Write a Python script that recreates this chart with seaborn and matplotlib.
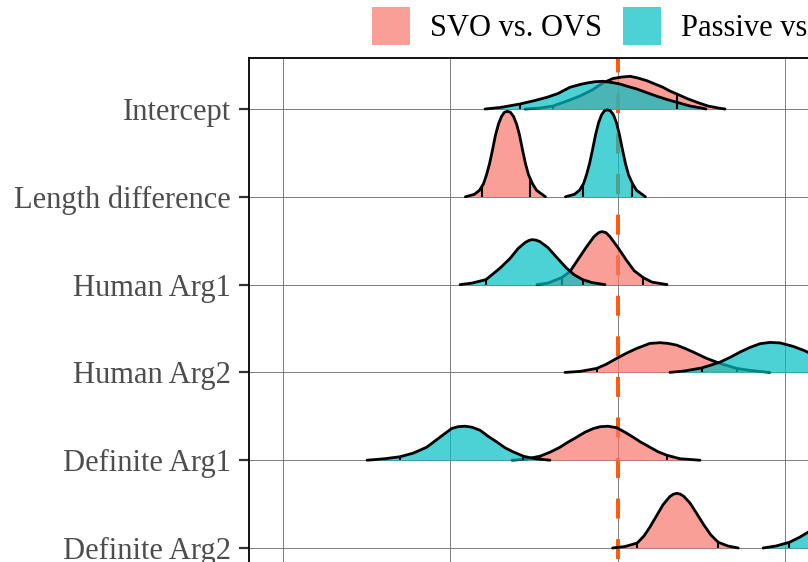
import numpy as np
import matplotlib
matplotlib.use('Agg')
import matplotlib.pyplot as plt
import seaborn as sns
from matplotlib.patches import Patch


terms = ['Intercept', 'Length difference', 'Human Arg1', 'Human Arg2', 'Definite Arg1', 'Definite Arg2']
contrasts = ['SVO vs. OVS', 'Passive vs. Active']

# posterior densities: x = estimate, h = density (arbitrary scale), q = 2.5% / 97.5% quantiles
int_svo_x = [-0.555, -0.466, -0.388, -0.304, -0.227, -0.155, -0.090, -0.030, 0.024, 0.072, 0.119, 0.173, 0.221, 0.269, 0.310, 0.352, 0.412, 0.472, 0.537, 0.609, 0.639]
int_svo_h = [0, 0.01, 0.03, 0.08, 0.13, 0.19, 0.26, 0.305, 0.32, 0.327, 0.31, 0.283, 0.25, 0.217, 0.18, 0.15, 0.105, 0.067, 0.03, 0.007, 0]
int_svo_q = [-0.388, 0.352]
int_pas_x = [-0.794, -0.704, -0.585, -0.496, -0.424, -0.358, -0.287, -0.227, -0.185, -0.137, -0.090, -0.036, 0.012, 0.060, 0.113, 0.173, 0.233, 0.293, 0.352, 0.430, 0.507, 0.525]
int_pas_h = [0, 0.015, 0.05, 0.085, 0.117, 0.155, 0.217, 0.245, 0.26, 0.273, 0.277, 0.265, 0.25, 0.225, 0.20, 0.163, 0.127, 0.095, 0.067, 0.03, 0.007, 0]
int_pas_q = [-0.585, 0.352]

len_svo_x = [-0.911, -0.857, -0.827, -0.803, -0.785, -0.767, -0.749, -0.731, -0.713, -0.695, -0.678, -0.660, -0.642, -0.624, -0.606, -0.588, -0.570, -0.552, -0.534, -0.510, -0.486, -0.433]
len_svo_h = [0, 0.025, 0.065, 0.13, 0.22, 0.33, 0.47, 0.62, 0.73, 0.805, 0.845, 0.855, 0.845, 0.805, 0.73, 0.62, 0.47, 0.33, 0.22, 0.13, 0.065, 0]
len_svo_q = [-0.810, -0.525]
len_pas_x = [-0.314, -0.260, -0.230, -0.206, -0.188, -0.170, -0.152, -0.134, -0.116, -0.098, -0.081, -0.063, -0.045, -0.027, -0.009, 0.009, 0.027, 0.045, 0.063, 0.087, 0.111, 0.164]
len_pas_h = [0, 0.025, 0.065, 0.13, 0.22, 0.33, 0.47, 0.62, 0.74, 0.82, 0.86, 0.87, 0.86, 0.82, 0.74, 0.62, 0.47, 0.33, 0.22, 0.13, 0.065, 0]
len_pas_q = [-0.207, 0.082]

hum1_svo_x = [-0.484, -0.418, -0.336, -0.287, -0.239, -0.191, -0.143, -0.115, -0.096, -0.072, -0.048, 0.0, 0.048, 0.096, 0.151, 0.203, 0.293]
hum1_svo_h = [0, 0.015, 0.07, 0.13, 0.25, 0.37, 0.48, 0.52, 0.53, 0.52, 0.48, 0.37, 0.25, 0.14, 0.07, 0.025, 0]
hum1_svo_q = [-0.336, 0.151]
hum1_pas_x = [-0.943, -0.872, -0.788, -0.704, -0.645, -0.597, -0.555, -0.534, -0.513, -0.490, -0.466, -0.418, -0.370, -0.310, -0.263, -0.211, -0.155, -0.078]
hum1_pas_h = [0, 0.015, 0.05, 0.165, 0.26, 0.36, 0.42, 0.44, 0.45, 0.445, 0.43, 0.37, 0.28, 0.17, 0.10, 0.05, 0.02, 0]
hum1_pas_q = [-0.788, -0.211]

hum2_svo_x = [-0.316, -0.227, -0.127, -0.072, -0.008, 0.048, 0.112, 0.191, 0.251, 0.299, 0.350, 0.400, 0.450, 0.530, 0.609, 0.709, 0.788, 0.907]
hum2_svo_h = [0, 0.01, 0.04, 0.08, 0.14, 0.19, 0.24, 0.29, 0.297, 0.29, 0.273, 0.24, 0.203, 0.14, 0.09, 0.04, 0.02, 0]
hum2_svo_q = [-0.127, 0.709]
hum2_pas_x = [0.310, 0.400, 0.500, 0.549, 0.609, 0.669, 0.728, 0.788, 0.848, 0.907, 0.967, 1.047, 1.110, 1.176, 1.266, 1.355, 1.445, 1.564]
hum2_pas_h = [0, 0.015, 0.045, 0.07, 0.103, 0.15, 0.203, 0.25, 0.287, 0.30, 0.295, 0.26, 0.22, 0.17, 0.10, 0.05, 0.02, 0]
hum2_pas_q = [0.500, 1.355]

def1_svo_x = [-0.633, -0.555, -0.466, -0.406, -0.346, -0.299, -0.247, -0.197, -0.147, -0.107, -0.060, -0.008, 0.042, 0.091, 0.137, 0.191, 0.239, 0.291, 0.370, 0.490]
def1_svo_h = [0, 0.01, 0.04, 0.08, 0.13, 0.18, 0.23, 0.28, 0.317, 0.335, 0.34, 0.325, 0.28, 0.23, 0.18, 0.13, 0.085, 0.05, 0.015, 0]
def1_svo_q = [-0.466, 0.291]
def1_pas_x = [-1.498, -1.391, -1.301, -1.224, -1.142, -1.063, -0.993, -0.955, -0.913, -0.872, -0.824, -0.776, -0.724, -0.675, -0.625, -0.565, -0.496, -0.406]
def1_pas_h = [0, 0.015, 0.035, 0.07, 0.13, 0.23, 0.317, 0.335, 0.34, 0.33, 0.30, 0.24, 0.183, 0.125, 0.083, 0.04, 0.015, 0]
def1_pas_q = [-1.301, -0.565]

def2_svo_x = [-0.032, 0.042, 0.115, 0.155, 0.191, 0.233, 0.270, 0.310, 0.331, 0.352, 0.373, 0.394, 0.430, 0.472, 0.513, 0.555, 0.599, 0.657, 0.718]
def2_svo_h = [0, 0.015, 0.05, 0.12, 0.21, 0.33, 0.435, 0.515, 0.538, 0.547, 0.538, 0.515, 0.45, 0.34, 0.23, 0.13, 0.057, 0.02, 0]
def2_svo_q = [0.115, 0.599]
def2_pas_x = [0.867, 0.943, 1.023, 1.087, 1.134, 1.206, 1.295, 1.385, 1.504, 1.624, 1.743, 1.862]
def2_pas_h = [0, 0.02, 0.057, 0.11, 0.157, 0.23, 0.30, 0.33, 0.28, 0.15, 0.05, 0]
def2_pas_q = [1.023, 1.624]


sns.set_theme(style='white')
plt.rcParams['font.family'] = ['Liberation Serif', 'DejaVu Serif']
plt.rcParams['lines.scale_dashes'] = False

colors = ['#F8766D', '#00BFC4']
scale = 1.139      # ridge height relative to row spacing

rows = [
    [(int_svo_x, int_svo_h, int_svo_q), (int_pas_x, int_pas_h, int_pas_q)],
    [(len_svo_x, len_svo_h, len_svo_q), (len_pas_x, len_pas_h, len_pas_q)],
    [(hum1_svo_x, hum1_svo_h, hum1_svo_q), (hum1_pas_x, hum1_pas_h, hum1_pas_q)],
    [(hum2_svo_x, hum2_svo_h, hum2_svo_q), (hum2_pas_x, hum2_pas_h, hum2_pas_q)],
    [(def1_svo_x, def1_svo_h, def1_svo_q), (def1_pas_x, def1_pas_h, def1_pas_q)],
    [(def2_svo_x, def2_svo_h, def2_svo_q), (def2_pas_x, def2_pas_h, def2_pas_q)],
]

fig = plt.figure(figsize=(8.08, 5.62), dpi=100)
# the panel runs past the right and bottom edge of the picture
ax = fig.add_axes([249 / 808, 1 - 700 / 562, 851 / 808, 642 / 562])
ytop, ybot = 0.581, -6.731

# null line under the ridges
ax.plot([0, 0], [ytop, ybot], color='#FF5A0F', lw=2.9,
        linestyle=(4, (14.4, 14.8)), zorder=1, solid_capstyle='butt')

z = 2
for i, row in enumerate(rows):
    base = -i
    for k, (x, h, q) in enumerate(row):
        x = np.array(x)
        top = base + np.array(h) * scale
        ax.fill_between(x, base, top, color=colors[k], alpha=0.7, lw=0, zorder=z)
        for qq in q:
            hq = np.interp(qq, x, top)
            ax.plot([qq, qq], [base, hq], color='black', lw=1.5, zorder=z + 0.01,
                    solid_capstyle='butt')
        sns.lineplot(x=x, y=top, ax=ax, color='black', lw=2.0, sort=False,
                     estimator=None, zorder=z + 0.02, legend=False,
                     solid_joinstyle='round')
        z += 0.1

ax.set_xlim(-2.203, 2.878)
ax.set_ylim(ybot, ytop)
ax.set_xticks([-2, -1, 0, 1, 2])
ax.set_xticklabels([])
ax.set_yticks([-i for i in range(len(terms))])
ax.set_yticklabels(terms)
ax.set_xlabel('')
ax.set_ylabel('')
ax.set_axisbelow(True)
ax.grid(True, color='#6a6a6a', lw=0.6)
for s in ax.spines.values():
    s.set_color('black')
    s.set_linewidth(1.3)
ax.tick_params(axis='y', left=True, length=7, width=1.6, color='#333333',
               pad=6, labelsize=22, labelcolor='#4D4D4D')
ax.tick_params(axis='x', length=0)

handles = [Patch(facecolor=c, alpha=0.7, edgecolor='none') for c in colors]
fig.legend(handles, contrasts, loc='upper left', bbox_to_anchor=(372 / 808, 1 - 7 / 562),
           ncol=2, frameon=False, fontsize=22, handlelength=1.25, handleheight=1.53,
           handletextpad=0.65, columnspacing=0.69, borderpad=0, borderaxespad=0,
           labelcolor='black')

plt.savefig('out.png', dpi=100)
